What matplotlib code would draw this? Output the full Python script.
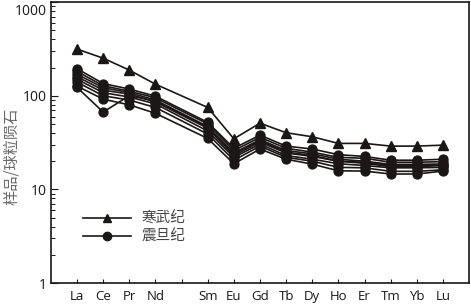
import matplotlib
matplotlib.use("Agg")
import matplotlib.pyplot as plt
from matplotlib.ticker import LogLocator, NullFormatter, FixedLocator
import matplotlib.transforms as mtransforms
import numpy as np

plt.rcParams["font.family"] = ["Open Sans", "Noto Sans CJK SC", "DejaVu Sans"]

# tick slots (Pm has a tick but no label and no data)
SLOTS = ["La", "Ce", "Pr", "Nd", "Pm", "Sm", "Eu", "Gd", "Tb", "Dy", "Ho", "Er", "Tm", "Yb", "Lu"]
ELEMENTS = ["La", "Ce", "Pr", "Nd", "Sm", "Eu", "Gd", "Tb", "Dy", "Ho", "Er", "Tm", "Yb", "Lu"]

# chondrite-normalised values
cambrian = [315, 252, 188, 133, 75, 34.7, 51, 40.3, 36.5, 31, 31, 29, 29, 29.7]

sinian = [
    [195, 135, 118, 99, 52, 27.5, 38, 29, 27, 23.5, 22.5, 20.5, 20.5, 21],
    [182, 128, 112, 95, 50, 26, 36, 27.5, 25, 22, 21.5, 19.5, 19.5, 19.8],
    [170, 122, 108, 90, 47, 24.5, 34, 26, 24, 21, 20, 18.5, 18.5, 18.7],
    [160, 115, 104, 86, 45, 23, 32, 24.5, 22.5, 20, 19, 17.5, 17.5, 18],
    [150, 108, 97, 82, 42, 22, 30.5, 23, 21, 18.8, 18, 17, 17, 17.2],
    [140, 100, 90, 75, 39, 20.5, 29, 22, 20, 17.2, 17, 15.6, 15.6, 16.2],
    [127, 92, 80, 65, 35, 18.8, 27, 21, 18.6, 15.8, 15.7, 14.6, 14.6, 15.7],
    [123, 67, 100, 88, 46, 24, 33, 25, 23, 20, 19.5, 18, 18, 18.2],
]

LEGEND_LABELS = ["寒武纪", "震旦纪"]
INK = "#1a1716"


def main() -> None:
    fig = plt.figure(figsize=(4.71, 3.05), dpi=100)
    ax = fig.add_axes([0.108, 0.072, 0.888, 0.921])

    xs = [SLOTS.index(e) for e in ELEMENTS]

    for vals in sinian:
        ax.plot(xs, vals, color=INK, lw=1.2, marker="o", ms=6.4, zorder=2)
    ax.plot(xs, cambrian, color=INK, lw=1.2, marker="^", ms=6.8, zorder=3)

    ax.set_yscale("log")
    ax.set_ylim(1, 1000)
    ax.set_xlim(-1, 15)

    ax.xaxis.set_major_locator(FixedLocator(range(len(SLOTS))))
    ax.set_xticklabels([s if s != "Pm" else "" for s in SLOTS], fontsize=9.5)
    ax.tick_params(axis="x", direction="in", length=3, width=0.8, pad=5, colors=INK)

    ax.set_yticks([1, 10, 100, 1000])
    ax.yaxis.set_minor_locator(LogLocator(base=10, subs=np.arange(2, 10), numticks=20))
    ax.yaxis.set_minor_formatter(NullFormatter())
    ax.set_yticklabels(["1", "10", "100", "1000"], fontsize=10)
    ax.tick_params(axis="y", which="major", direction="in", length=5, width=0.8, pad=3, colors=INK)
    ax.tick_params(axis="y", which="minor", direction="in", length=3, width=0.7, colors=INK)
    # nudge the top label down so it stays inside the figure
    top_lbl = ax.get_yticklabels()[-1]
    top_lbl.set_transform(top_lbl.get_transform()
                          + mtransforms.ScaledTranslation(0, -5 / 72, fig.dpi_scale_trans))

    for sp in ax.spines.values():
        sp.set_linewidth(1.2)
        sp.set_color(INK)

    ax.set_ylabel("样品/球粒陨石", fontsize=11, color="#6a6a6a",
                  family=["Noto Sans CJK SC", "DejaVu Sans"])
    ax.yaxis.set_label_coords(-0.074, 0.45)

    # legend
    handles = [
        plt.Line2D([], [], color=INK, lw=1.2, marker="^", ms=6),
        plt.Line2D([], [], color=INK, lw=1.2, marker="o", ms=6),
    ]
    ax.legend(handles, LEGEND_LABELS, loc="upper left", bbox_to_anchor=(0.045, 0.30),
              frameon=False, handlelength=3.3, handletextpad=0.7, labelspacing=0.25,
              prop={"family": ["Noto Sans CJK SC", "DejaVu Sans"], "size": 10.5},
              labelcolor="#444444")

    fig.savefig("out.png", dpi=100)
    plt.close(fig)


if __name__ == "__main__":
    main()
